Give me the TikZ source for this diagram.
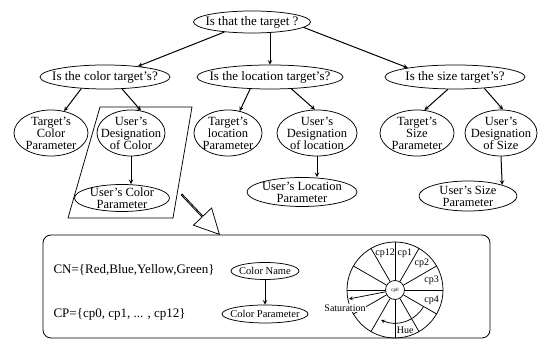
\documentclass[tikz,border=0pt]{standalone}
\usepackage{fontspec}
\setmainfont{Liberation Serif}
\usetikzlibrary{arrows,shapes.geometric,shapes.arrows}

\begin{document}
\begin{tikzpicture}[
  x=1pt, y=1pt,
  oval/.style={ellipse, draw, line width=0.75pt, inner xsep=-14pt, inner ysep=-4pt, align=center, font=\fontsize{12.5}{12}\selectfont},
  question/.style={oval, font=\fontsize{13}{13}\selectfont},
  small oval/.style={oval, font=\fontsize{10.5}{10}\selectfont},
  link/.style={draw, ->, >=stealth, line width=1pt},
  wheel label/.style={font=\fontsize{10}{10}\selectfont, inner sep=0.5pt}
]
\useasboundingbox (0,0) rectangle (539,342);

% Questions
\node[question, minimum width=117pt, minimum height=22pt] (root) at (252,320) {Is that the target ?};
\node[question, minimum width=130pt, minimum height=24pt] (color) at (105,265) {Is the color target's?};
\node[question, minimum width=146pt, minimum height=24pt] (loc) at (270,265) {Is the location target's?};
\node[question, minimum width=140pt, minimum height=24pt] (size) at (455,265) {Is the size target's?};
\draw[link] (root.200) -- (color.18);
\draw[link] (root.south -| loc.north) -- (loc.north);
\draw[link] (root.-6) -- (size.169);

% Color branch
\draw[line width=0.75pt] (100,235) -- (192,235) -- (173,124) -- (68,124) -- cycle;
\node[oval, minimum width=74pt, minimum height=46pt] (tcolor) at (51,209) {Target's\\Color\\Parameter};
\node[oval, minimum width=68pt, minimum height=46pt] (dcolor) at (131,209) {User's\\Designation\\of Color};
\node[oval, minimum width=95pt, minimum height=27pt] (cparam) at (122,144) {User's Color\\Parameter};
\draw[link] (color.206) -- (tcolor.59);
\draw[link] (color.-35) -- (dcolor.66);
\draw[link] (dcolor.south) -- (dcolor.south |- cparam.north);

% Location branch
\node[oval, minimum width=68pt, minimum height=46pt] (tloc) at (228,209) {Target's\\location\\Parameter};
\node[oval, minimum width=80pt, minimum height=46pt] (dloc) at (317,209) {User's\\Designation\\of location};
\node[oval, minimum width=110pt, minimum height=29pt] (lparam) at (302,150) {User's Location\\Parameter};
\draw[link] (loc.211) -- (tloc.62);
\draw[link] (loc.-29) -- (dloc.95);
\draw[link] (dloc.south) -- (dloc.south |- lparam.north);

% Size branch
\node[oval, minimum width=74pt, minimum height=46pt] (tsize) at (417,209) {Target's\\Size\\Parameter};
\node[oval, minimum width=72pt, minimum height=46pt] (dsize) at (501,209) {User's\\Designation\\of Size};
\node[oval, minimum width=98pt, minimum height=30pt] (sparam) at (468,146) {User's Size\\Parameter};
\draw[link] (size.240) -- (tsize.72);
\draw[link] (size.-21) -- (dsize.85);
\draw[link] (dsize.south) -- (sparam.18.6);

% Detail box
\draw[line width=0.8pt, rounded corners=8pt] (43,107) rectangle (490,4);
\node[single arrow, draw, fill=white, line width=0.75pt, minimum height=55pt, minimum width=25pt,
  single arrow head extend=6.4pt, single arrow tip angle=54, inner sep=0pt,
  rotate=-46.5, anchor=tip] (pointer) at (220,107) {};
\node[anchor=west, font=\fontsize{13}{13}\selectfont] (cn) at (50,72) {CN=\{Red,Blue,Yellow,Green\}};
\node[anchor=west, font=\fontsize{13}{13}\selectfont] (cp) at (50,28) {CP=\{cp0, cp1, ... , cp12\}};
\node[small oval, minimum width=68pt, minimum height=17pt] (cname) at (265,71) {Color Name};
\node[small oval, minimum width=86pt, minimum height=18pt] (cpname) at (265,28) {Color Parameter};
\draw[link] (cname.south) -- (cpname.north);

% Color wheel
\node[circle, draw, line width=0.75pt, minimum size=19pt, inner sep=0pt, font=\fontsize{5}{5}\selectfont] (cp0) at (395,52) {cp0};
\draw[line width=0.75pt] (cp0.center) circle[radius=48pt];
\foreach \a in {0,30,...,330}
  \draw[line width=0.75pt] (cp0.\a) -- ([shift={(\a:48pt)}]cp0.center);
\foreach \lab/\ang in {cp12/105, cp1/75, cp2/45, cp3/15, cp4/-15}
  \node[wheel label] (\lab) at ([shift={(\ang:38pt)}]cp0.center) {\lab};
\node[wheel label] (hue) at ([shift={(-76:42pt)}]cp0.center) {Hue};
\node[wheel label, fill=white] (sat) at (345,34) {Saturation};
\coordinate (sattip) at ([shift={(191:47pt)}]cp0.center);
\draw[link, line width=0.75pt] (cp0.191) -- (sattip);
\draw[link, line width=0.75pt] ([shift={(-30:33pt)}]cp0.center) arc[start angle=-30, end angle=-115, radius=33pt];

\end{tikzpicture}
\end{document}
